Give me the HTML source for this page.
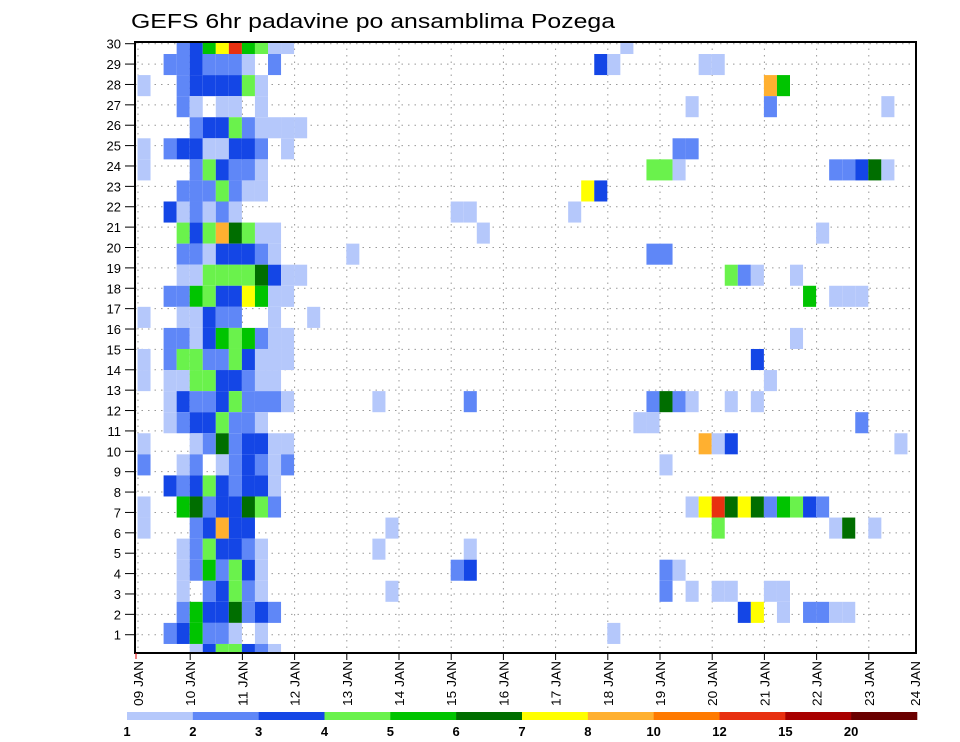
<!DOCTYPE html>
<html><head><meta charset="utf-8"><style>
html,body{margin:0;padding:0;background:#fff;}
svg{display:block;font-family:"Liberation Sans",sans-serif;}
</style></head><body>
<svg id="chart" width="960" height="742" viewBox="0 0 960 742" xmlns="http://www.w3.org/2000/svg">
<rect width="960" height="742" fill="#fff"/>
<text x="131" y="28" font-size="20" textLength="484" lengthAdjust="spacingAndGlyphs" fill="#000">GEFS 6hr padavine po ansamblima Pozega</text>
<g id="grid"></g>
<g id="cells"></g>
<rect x="135" y="42" width="781" height="611" fill="none" stroke="#000" stroke-width="2"/>
<g id="yaxis"></g>
<g id="xaxis"></g>
<g id="cbar"></g>
</svg>
<script>
// ---- data ----
const dayLabels = ["09","10","11","12","13","14","15","16","17","18","19","20","21","22","23","24"];
const memberTicks = [1,2,3,4,5,6,7,8,9,10,11,12,13,14,15,16,17,18,19,20,21,22,23,24,25,26,27,28,29,30];
const levels = [1,2,3,4,5,6,7,8,10,12,15,20];
const levelColors = ["#b5c8fb","#5f87f7","#1446e6","#6af24c","#00c400","#006e00","#ffff00","#ffb030","#ff7a00","#e83010","#a80000","#6a0000"];
// members from top (30) to bottom (1)
const members = [30,29,28,27,26,25,24,23,22,21,20,19,18,17,16,15,14,13,12,11,10,9,8,7,6,5,4,3,2,1];
// 6-hourly step indices (step 0 = 09 JAN 00-06)
const steps = [
[3,4,5,6,7,8,9,10,11,37],
[2,3,4,5,6,7,8,10,35,36,43,44],
[0,3,4,5,6,7,8,9,48,49],
[3,4,6,7,9,42,48,57],
[4,5,6,7,8,9,10,11,12],
[0,2,3,4,5,6,7,8,9,11,41,42],
[0,4,5,6,7,8,9,39,40,41,53,54,55,56,57],
[3,4,5,6,7,8,9,34,35],
[2,3,4,5,6,7,24,25,33],
[3,4,5,6,7,8,9,10,26,52],
[3,4,5,6,7,8,9,10,16,39,40],
[3,4,5,6,7,8,9,10,11,12,45,46,47,50],
[2,3,4,5,6,7,8,9,10,11,51,53,54,55],
[0,3,4,5,6,7,10,13],
[2,3,4,5,6,7,8,9,10,11,50],
[0,2,3,4,5,6,7,8,9,10,11,47],
[0,2,3,4,5,6,7,8,9,10,48],
[2,3,4,5,6,7,8,9,10,11,18,25,39,40,41,42,45,47],
[2,3,4,5,6,7,8,9,38,39,55],
[0,4,5,6,7,8,9,10,11,43,44,45,58],
[0,3,4,6,7,8,9,10,11,40],
[2,3,4,5,6,7,8,9,10],
[0,3,4,5,6,7,8,9,10,42,43,44,45,46,47,48,49,50,51,52],
[0,4,5,6,7,8,19,44,53,54,56],
[3,4,5,6,7,8,9,18,25],
[3,4,5,6,7,8,9,24,25,40,41],
[3,5,6,7,8,9,19,40,42,44,45,48,49],
[3,4,5,6,7,8,9,10,46,47,49,51,52,53,54],
[2,3,4,5,6,7,9,36],
[4,5,6,7,8,9,10]
];
const precip = [
[2.5,3.5,5.5,7.5,13.5,5.5,4.5,1.5,1.5,1.5],
[2.5,2.5,3.5,2.5,2.5,2.5,1.5,2.5,3.5,1.5,1.5,1.5],
[1.5,2.5,3.5,3.5,3.5,3.5,4.5,1.5,9,5.5],
[2.5,1.5,1.5,1.5,1.5,1.5,2.5,1.5],
[2.5,3.5,3.5,4.5,2.5,1.5,1.5,1.5,1.5],
[1.5,2.5,3.5,3.5,1.5,1.5,3.5,3.5,2.5,1.5,2.5,2.5],
[1.5,2.5,4.5,3.5,2.5,2.5,1.5,4.5,4.5,1.5,2.5,2.5,3.5,6.5,1.5],
[2.5,2.5,2.5,4.5,2.5,1.5,1.5,7.5,3.5],
[3.5,1.5,2.5,1.5,2.5,1.5,1.5,1.5,1.5],
[4.5,3.5,4.5,9,6.5,4.5,1.5,1.5,1.5,1.5],
[2.5,2.5,1.5,3.5,3.5,3.5,2.5,1.5,1.5,2.5,2.5],
[1.5,1.5,4.5,4.5,4.5,4.5,6.5,3.5,1.5,1.5,4.5,2.5,1.5,1.5],
[2.5,2.5,5.5,4.5,3.5,3.5,7.5,5.5,1.5,1.5,5.5,1.5,1.5,1.5],
[1.5,1.5,1.5,3.5,2.5,2.5,1.5,1.5],
[2.5,2.5,1.5,3.5,5.5,4.5,5.5,2.5,1.5,1.5,1.5],
[1.5,2.5,4.5,4.5,2.5,2.5,4.5,3.5,1.5,1.5,1.5,3.5],
[1.5,1.5,1.5,4.5,4.5,3.5,3.5,2.5,1.5,1.5,1.5],
[1.5,3.5,2.5,2.5,3.5,4.5,2.5,2.5,2.5,1.5,1.5,2.5,2.5,6.5,2.5,1.5,1.5,1.5],
[1.5,2.5,3.5,3.5,4.5,2.5,2.5,1.5,1.5,1.5,2.5],
[1.5,1.5,2.5,6.5,2.5,3.5,3.5,1.5,1.5,9,1.5,3.5,1.5],
[2.5,1.5,2.5,1.5,2.5,3.5,2.5,1.5,2.5,1.5],
[3.5,2.5,3.5,4.5,3.5,2.5,3.5,3.5,1.5],
[1.5,5.5,6.5,2.5,3.5,3.5,6.5,4.5,2.5,1.5,7.5,13.5,6.5,7.5,6.5,2.5,5.5,4.5,3.5,2.5],
[1.5,2.5,3.5,9,3.5,3.5,1.5,4.5,1.5,6.5,1.5],
[1.5,2.5,4.5,3.5,3.5,2.5,1.5,1.5,1.5],
[1.5,2.5,5.5,2.5,4.5,3.5,1.5,2.5,3.5,2.5,1.5],
[1.5,2.5,3.5,4.5,2.5,1.5,1.5,2.5,1.5,1.5,1.5,1.5,1.5],
[2.5,5.5,3.5,3.5,6.5,2.5,3.5,2.5,3.5,7.5,1.5,2.5,2.5,1.5,1.5],
[2.5,3.5,5.5,2.5,2.5,1.5,1.5,1.5],
[1.5,3.5,4.5,4.5,3.5,2.5,1.5]
];

// ---- scales ----
const NS = "http://www.w3.org/2000/svg";
const PL = 135, PR = 916, PT = 42, PB = 653;
function xDay(d){ return 138 + d*52.2; }
function xStep(k){ return 137.5 + k*13.05; }
const STEP_W = 13.05;
function yMember(m){ return 654.5 - (m-1)*21.07; } // cell center
const CELL_H = 21.07;
function yTick(r){ return 655.1 - r*20.38; }
function colorFor(v){
  let idx = 0;
  for (let i=0;i<levels.length;i++){ if (v >= levels[i]) idx = i; }
  return levelColors[idx];
}
function mk(tag, attrs, parent){
  const e = document.createElementNS(NS, tag);
  for (const a in attrs) e.setAttribute(a, attrs[a]);
  parent.appendChild(e);
  return e;
}

// ---- grid ----
const grid = document.getElementById('grid');
memberTicks.forEach(r=>{
  const l = mk('line',{x1:PL,x2:PR,y1:yTick(r),y2:yTick(r),stroke:'#999','stroke-width':1,'stroke-dasharray':'1.5,5'},grid);
  
  
});
dayLabels.forEach((d,i)=>{
  const x = xDay(i);
  if (x <= PL+1 || x >= PR) return;
  const l = mk('line',{x1:x,x2:x,y1:PT,y2:PB,stroke:'#999','stroke-width':1,'stroke-dasharray':'1.5,5'},grid);
  
  
});

// ---- cells ----
const cells = document.getElementById('cells');
members.forEach((m,ri)=>{
  steps[ri].forEach((k,ci)=>{
    const v = precip[ri][ci];
    let y0 = yMember(m) - CELL_H/2, y1 = yMember(m) + CELL_H/2;
    y0 = Math.max(y0, PT); y1 = Math.min(y1, PB);
    if (y1 <= y0) return;
    const r = mk('rect',{x:xStep(k).toFixed(2),y:y0.toFixed(2),width:STEP_W.toFixed(2),height:(y1-y0).toFixed(2),fill:colorFor(v)},cells);
    
    
  });
});

// ---- y axis ----
const ya = document.getElementById('yaxis');
memberTicks.forEach(r=>{
  const y = yTick(r);
  const t = mk('line',{x1:125,x2:PL,y1:y,y2:y,stroke:'#000','stroke-width':1},ya);
  
  
  const tx = mk('text',{x:121,y:y+5,'font-size':13,'text-anchor':'end',fill:'#000'},ya);
  tx.textContent = r;
  
  
});

// ---- x axis ----
const xa = document.getElementById('xaxis');
const rm = mk('line',{x1:136,x2:136,y1:PB,y2:PB+6,stroke:'#d00','stroke-width':1},xa);


dayLabels.forEach((d,i)=>{
  let x = xDay(i);
  if (i === dayLabels.length-1) x = 915;
  if (i > 0 && i < dayLabels.length-1){
    const t = mk('line',{x1:x,x2:x,y1:PB,y2:PB+7,stroke:'#000','stroke-width':1},xa);
    
    
  }
  const tx = mk('text',{x:0,y:0,'font-size':13,fill:'#000',textLength:45,lengthAdjust:'spacingAndGlyphs',transform:`translate(${x+5},706) rotate(-90)`},xa);
  tx.textContent = d + ' JAN';
  
  
});

// ---- colorbar ----
const cb = document.getElementById('cbar');
const CB_X = 127, CB_W = 790/12;
levelColors.forEach((c,i)=>{
  const r = mk('rect',{x:CB_X+i*CB_W,y:712,width:CB_W+0.3,height:8,fill:c},cb);
  
  
});
levels.forEach((lv,i)=>{
  const tx = mk('text',{x:CB_X+i*CB_W,y:736,'font-size':13,'font-weight':'bold','text-anchor':'middle',fill:'#000'},cb);
  tx.textContent = lv;
  
  
});
</script>
</body></html>
